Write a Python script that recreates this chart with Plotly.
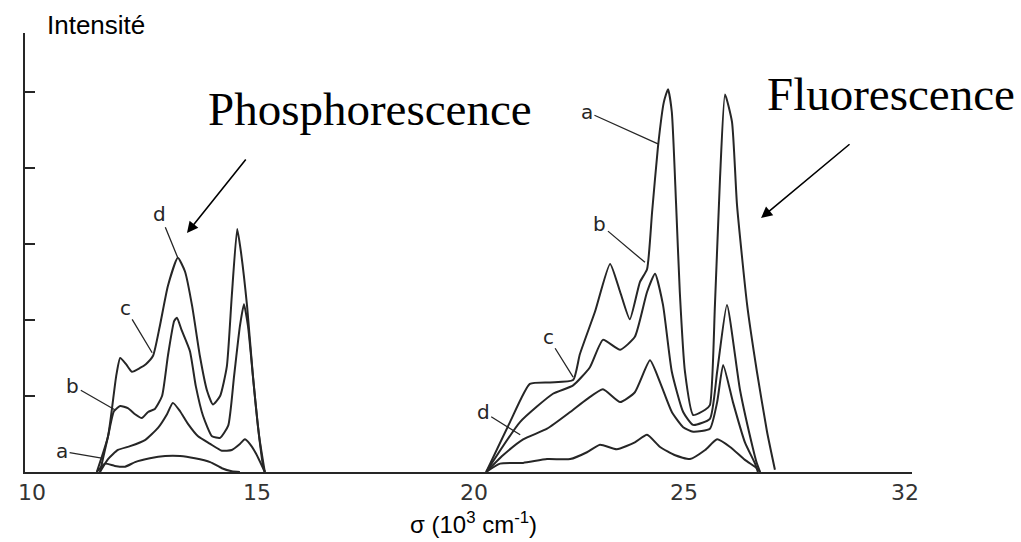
import numpy as np
import plotly.graph_objects as go

# σ axis: tick values and where each tick sits along the drawn axis (px from the y axis)
SIGMA_TICKS = [10, 15, 20, 25, 32]
TICK_LABELS = ["10", "15", "20", "25", "32"]
TICK_OFFSETS = [7, 232, 449, 659, 880]
AXIS_LENGTH = 887

Y_TICKS = [1, 2, 3, 4, 5]
Y_MAX = 5.78

# Phosphorescence band (σ in 10^3 cm-1, intensity in arbitrary units)
phos_sigma_a = [11.44, 11.62, 11.84, 12.07, 12.29, 12.62, 12.96, 13.29, 13.62, 13.96, 14.22, 14.44, 14.62]
phos_int_a = [0, 0.11, 0.08, 0.07, 0.13, 0.18, 0.21, 0.21, 0.18, 0.13, 0.05, 0.01, 0]

phos_sigma_b = [11.51, 11.69, 11.91, 12.18, 12.51, 12.80, 13.00, 13.13, 13.29, 13.47, 13.69, 13.96,
                14.22, 14.44, 14.62, 14.73, 14.84, 14.98, 15.14, 15.18]
phos_int_b = [0, 0.17, 0.29, 0.34, 0.42, 0.58, 0.76, 0.91, 0.80, 0.63, 0.47, 0.37,
              0.28, 0.29, 0.37, 0.43, 0.37, 0.24, 0.05, 0]

phos_sigma_c = [11.51, 11.69, 11.82, 11.96, 12.13, 12.29, 12.44, 12.58, 12.73, 12.89, 13.02, 13.16,
                13.22, 13.33, 13.51, 13.64, 13.80, 14.00, 14.18, 14.36, 14.49, 14.62, 14.71, 14.80,
                14.91, 15.02, 15.14, 15.18]
phos_int_c = [0, 0.47, 0.80, 0.87, 0.84, 0.76, 0.71, 0.79, 0.83, 1.00, 1.53, 1.99,
              2.03, 1.86, 1.59, 1.13, 0.74, 0.47, 0.45, 0.61, 1.26, 1.92, 2.21, 1.92,
              1.26, 0.61, 0.08, 0]

phos_sigma_d = [11.44, 11.69, 11.87, 11.96, 12.09, 12.22, 12.40, 12.53, 12.69, 12.84, 13.02, 13.24,
                13.40, 13.56, 13.73, 13.89, 14.02, 14.18, 14.33, 14.44, 14.56, 14.64, 14.78, 14.91,
                15.05, 15.18]
phos_int_d = [0, 0.47, 1.26, 1.50, 1.42, 1.32, 1.37, 1.42, 1.53, 1.92, 2.45, 2.82,
              2.64, 2.18, 1.53, 1.07, 0.89, 1.00, 1.39, 2.32, 3.20, 2.91, 2.18, 1.26,
              0.47, 0]

# Fluorescence band
fluo_sigma_a = [20.29, 20.86, 21.33, 21.81, 22.36, 22.52, 22.88, 23.24, 23.48, 23.71, 23.95, 24.12,
                24.24, 24.38, 24.52, 24.62, 24.71, 24.81, 24.90, 25.03, 25.29, 25.67, 25.82, 25.98,
                26.14, 26.30, 26.52, 26.68, 27.00, 27.31, 27.63, 27.88]
fluo_int_a = [0, 0.66, 1.16, 1.18, 1.21, 1.55, 2.11, 2.74, 2.37, 2.01, 2.50, 2.67,
              3.42, 4.28, 4.87, 5.04, 4.74, 3.55, 2.37, 1.32, 0.75, 0.82, 0.88, 2.20,
              3.86, 4.97, 4.61, 3.51, 2.20, 1.32, 0.53, 0.03]

fluo_sigma_b = [20.29, 21.10, 21.88, 22.36, 22.76, 23.07, 23.48, 23.83, 24.12, 24.31, 24.50, 24.71,
                24.98, 25.29, 25.82, 26.05, 26.36, 26.77, 27.19, 27.31, 27.41]
fluo_int_b = [0, 0.66, 1.03, 1.14, 1.38, 1.74, 1.61, 1.78, 2.37, 2.61, 2.20, 1.32,
              0.79, 0.62, 0.70, 1.32, 2.20, 1.09, 0.30, 0.11, 0]

fluo_sigma_c = [20.29, 20.69, 21.17, 21.74, 22.29, 22.69, 23.07, 23.48, 23.83, 24.19, 24.43, 24.71,
                24.98, 25.29, 25.82, 26.05, 26.24, 26.55, 26.93, 27.25, 27.34]
fluo_int_c = [0, 0.22, 0.43, 0.57, 0.79, 0.96, 1.09, 0.92, 1.05, 1.47, 1.18, 0.79,
              0.59, 0.53, 0.57, 0.92, 1.41, 0.92, 0.39, 0.11, 0]

fluo_sigma_d = [20.29, 20.62, 21.17, 21.74, 22.29, 22.69, 23.00, 23.40, 23.83, 24.12, 24.43, 24.79,
                25.19, 25.67, 26.05, 26.46, 26.93, 27.31, 27.41]
fluo_int_d = [0, 0.11, 0.12, 0.17, 0.17, 0.26, 0.36, 0.30, 0.39, 0.49, 0.33, 0.22,
              0.17, 0.29, 0.43, 0.33, 0.16, 0.05, 0]

# Curve labels: (letter, σ, intensity of the point the pointer touches, text offset in px)
phos_labels = [("a", 11.58, 0.18, -41, -7), ("b", 11.84, 0.82, -42, -24),
               ("c", 12.67, 1.57, -27, -45), ("d", 13.24, 2.82, -18, -44)]
fluo_labels = [("a", 24.38, 4.32, -71, -32), ("b", 24.07, 2.76, -45, -38),
               ("c", 22.36, 1.25, -25, -40), ("d", 21.10, 0.49, -37, -23)]

INK = "#262626"


def axis_pos(sigma):
    """Place σ values on the hand-drawn (non-uniform) axis."""
    return np.interp(sigma, SIGMA_TICKS, TICK_OFFSETS)


fig = go.Figure()

curves = [
    (phos_sigma_a, phos_int_a), (phos_sigma_b, phos_int_b),
    (phos_sigma_c, phos_int_c), (phos_sigma_d, phos_int_d),
    (fluo_sigma_a, fluo_int_a), (fluo_sigma_b, fluo_int_b),
    (fluo_sigma_c, fluo_int_c), (fluo_sigma_d, fluo_int_d),
]
for sig, inten in curves:
    fig.add_trace(go.Scatter(
        x=axis_pos(sig), y=inten, mode="lines",
        line=dict(color=INK, width=2, shape="spline", smoothing=0.5),
        hoverinfo="skip", showlegend=False,
    ))

annotations = []
for letter, s, v, ax, ay in phos_labels + fluo_labels:
    annotations.append(dict(
        x=float(axis_pos(s)), y=v, xref="x", yref="y", text=letter,
        showarrow=True, arrowhead=0, arrowwidth=1.3, arrowcolor=INK,
        ax=ax, ay=ay, font=dict(family="DejaVu Sans", size=20, color=INK),
    ))

# Band titles with their pointing arrows
annotations += [
    dict(x=0.389, y=0.827, xref="paper", yref="paper", text="Phosphorescence",
         xanchor="center", yanchor="middle", showarrow=False,
         font=dict(family="Liberation Serif", size=47, color="black")),
    dict(x=0.976, y=0.861, xref="paper", yref="paper", text="Fluorescence",
         xanchor="center", yanchor="middle", showarrow=False,
         font=dict(family="Liberation Serif", size=47, color="black")),
    dict(x=0.1826, y=0.5444, xref="paper", yref="paper", text="",
         showarrow=True, arrowhead=2, arrowsize=1.4, arrowwidth=1.6, arrowcolor="black",
         ax=60, ay=-75),
    dict(x=0.8298, y=0.5786, xref="paper", yref="paper", text="",
         showarrow=True, arrowhead=2, arrowsize=1.4, arrowwidth=1.6, arrowcolor="black",
         ax=90, ay=-75),
    dict(x=0.0225, y=1.018, xref="paper", yref="paper", text="Intensité",
         xanchor="left", yanchor="middle", showarrow=False,
         font=dict(family="Liberation Sans", size=26, color="black")),
    dict(x=0.506, y=-0.117, xref="paper", yref="paper",
         text="σ (10<sup>3</sup> cm<sup>-1</sup>)",
         xanchor="center", yanchor="middle", showarrow=False,
         font=dict(family="Liberation Sans", size=24, color="black")),
]

fig.update_layout(
    width=1021, height=542,
    margin=dict(l=25, r=109, t=33, b=70),
    paper_bgcolor="white", plot_bgcolor="white",
    showlegend=False,
    annotations=annotations,
    xaxis=dict(
        range=[0, AXIS_LENGTH], tickvals=TICK_OFFSETS, ticktext=TICK_LABELS,
        showline=True, linecolor=INK, linewidth=2, showgrid=False, zeroline=False,
        ticks="", tickfont=dict(family="DejaVu Sans", size=22, color="#333333"),
    ),
    yaxis=dict(
        range=[0, Y_MAX], tickvals=Y_TICKS, showticklabels=False,
        ticks="inside", ticklen=10, tickwidth=2, tickcolor=INK,
        showline=True, linecolor=INK, linewidth=2, showgrid=False, zeroline=False,
    ),
)

fig.write_html("out.html")
